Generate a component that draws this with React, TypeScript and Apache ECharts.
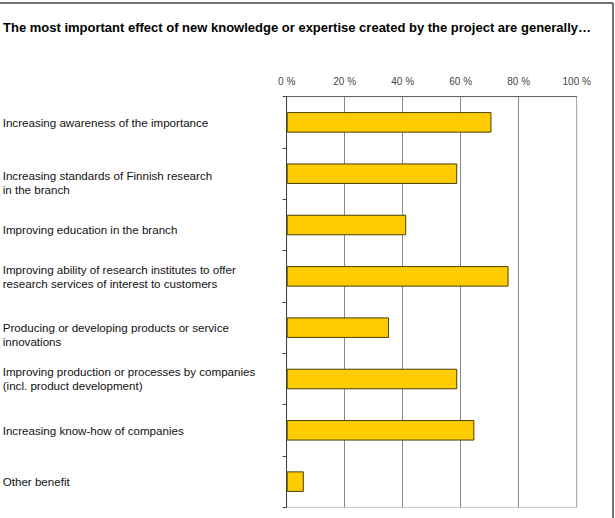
import React, { useEffect, useRef } from "react";
import * as echarts from "echarts";

const titleText =
  "The most important effect of new knowledge or expertise created by the project are generally…";

const categories = [
  "Increasing awareness of the importance",
  "Increasing standards of Finnish research\nin the branch",
  "Improving education in the branch",
  "Improving ability of research institutes to offer\nresearch services of interest to customers",
  "Producing or developing products or service\ninnovations",
  "Improving production or processes by companies\n(incl. product development)",
  "Increasing know-how of companies",
  "Other benefit",
];

// share of respondents, %
const values = [70.6, 58.8, 41.2, 76.5, 35.3, 58.8, 64.7, 5.9];

const xTicks = [0, 20, 40, 60, 80, 100];

// per-label downward shift in px (layout only)
const labelShift = [0, 9, 4, 0, 7, 0, 0, 0];

const FONT = "'Liberation Sans', Arial, sans-serif";

export default function App() {
  const ref = useRef<HTMLDivElement>(null);

  useEffect(() => {
    document.body.style.margin = "0";
    if (!ref.current) return;
    const chart = echarts.init(ref.current, null, { renderer: "svg" });
    const rich: Record<string, any> = {
      t: {
        fontSize: 11.6,
        lineHeight: 14,
        color: "#111",
        fontFamily: FONT,
        align: "left",
      },
    };
    labelShift.forEach((s) => {
      if (s > 0) rich["sp" + s] = { fontSize: 1, lineHeight: s * 2, align: "left" };
    });
    chart.setOption({
      animation: false,
      backgroundColor: "#ffffff",
      textStyle: { fontFamily: FONT },
      title: {
        text: titleText,
        left: 3,
        top: 21,
        padding: 0,
        textStyle: {
          fontFamily: FONT,
          fontSize: 13,
          fontWeight: "bold",
          color: "#000",
        },
      },
      grid: {
        left: 286.7,
        right: 38.3,
        top: 96.7,
        bottom: 10.7,
        containLabel: false,
        outerBoundsMode: "none",
        show: true,
        borderColor: "#c4c4c4",
        borderWidth: 1,
        backgroundColor: "transparent",
      },
      xAxis: {
        type: "value",
        position: "top",
        min: xTicks[0],
        max: xTicks[xTicks.length - 1],
        interval: 20,
        axisLine: { show: true, lineStyle: { color: "#666", width: 1 } },
        axisTick: { show: false },
        splitLine: {
          show: true,
          lineStyle: {
            color: ["#888", "#888", "#888", "#888", "#888", "#aaa"],
            width: 1,
          },
        },
        axisLabel: {
          formatter: "{value} %",
          fontSize: 10,
          color: "#444",
          margin: 10,
          fontFamily: FONT,
        },
      },
      yAxis: {
        type: "category",
        inverse: true,
        data: categories,
        axisLine: { show: true, lineStyle: { color: "#444", width: 1 } },
        axisTick: { show: true, length: 4, lineStyle: { color: "#444" } },
        axisLabel: {
          align: "left",
          margin: 284,
          fontSize: 11.6,
          lineHeight: 14,
          color: "#111",
          fontFamily: FONT,
          formatter: (value: string, index: number) => {
            const lines = value.split("\n").map((l) => `{t|${l}}`);
            const s = labelShift[index] || 0;
            if (s > 0) lines.unshift(`{sp${s}| }`);
            return lines.join("\n");
          },
          rich,
        },
      },
      series: [
        {
          type: "bar",
          data: values,
          barWidth: "40%",
          itemStyle: {
            color: "#FFCC00",
            borderColor: "#4a3f00",
            borderWidth: 1,
          },
        },
      ],
      graphic: [
        {
          type: "line",
          shape: { x1: 0, y1: 3, x2: 613, y2: 3 },
          style: { stroke: "#444", lineWidth: 1.5 },
        },
        {
          type: "line",
          shape: { x1: 613, y1: 3, x2: 613, y2: 518 },
          style: { stroke: "#444", lineWidth: 1.5 },
        },
      ],
    });
    return () => chart.dispose();
  }, []);

  return <div ref={ref} style={{ width: 615, height: 518 }} />;
}
